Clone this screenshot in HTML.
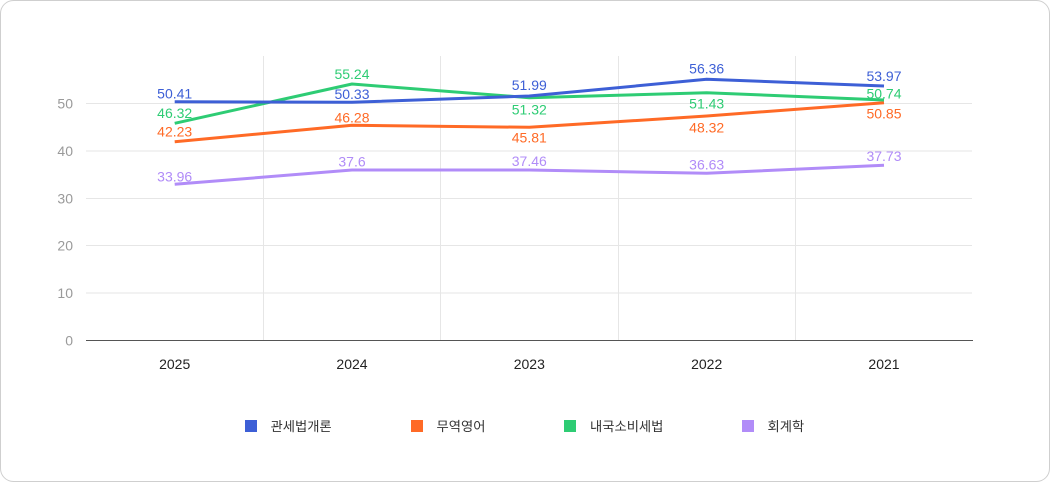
<!DOCTYPE html>
<html>
<head>
<meta charset="utf-8">
<style>
  html,body{margin:0;padding:0;background:#fff;}
  body{width:1050px;height:482px;overflow:hidden;}
  svg{display:block;}
  text{font-family:"Liberation Sans","Noto Sans CJK KR",sans-serif;}
</style>
</head>
<body>
<svg width="1050" height="482" viewBox="0 0 1050 482" xmlns="http://www.w3.org/2000/svg">
  <rect x="0.5" y="0.5" width="1049" height="481" rx="13" ry="13" fill="#fff" stroke="#cfcfcf" stroke-width="1"/>

  <!-- horizontal grid -->
  <g stroke="#e6e6e6" stroke-width="1">
    <line x1="86" y1="103.5" x2="972" y2="103.5"/>
    <line x1="86" y1="151" x2="972" y2="151"/>
    <line x1="86" y1="198.5" x2="972" y2="198.5"/>
    <line x1="86" y1="245.5" x2="972" y2="245.5"/>
    <line x1="86" y1="293" x2="972" y2="293"/>
    <!-- vertical grid -->
    <line x1="263.5" y1="56" x2="263.5" y2="340"/>
    <line x1="440.5" y1="56" x2="440.5" y2="340"/>
    <line x1="618.5" y1="56" x2="618.5" y2="340"/>
    <line x1="795.5" y1="56" x2="795.5" y2="340"/>
  </g>
  <line x1="86" y1="340.5" x2="973" y2="340.5" stroke="#555" stroke-width="1"/>

  <!-- y labels -->
  <g fill="#9a9a9a" font-size="14" text-anchor="end">
    <text x="73" y="108.5">50</text>
    <text x="73" y="156">40</text>
    <text x="73" y="203.5">30</text>
    <text x="73" y="250.5">20</text>
    <text x="73" y="298">10</text>
    <text x="73" y="345.5">0</text>
  </g>

  <!-- x labels -->
  <g fill="#222" font-size="14" text-anchor="middle">
    <text x="174.7" y="369">2025</text>
    <text x="352" y="369">2024</text>
    <text x="529.3" y="369">2023</text>
    <text x="706.7" y="369">2022</text>
    <text x="884" y="369">2021</text>
  </g>

  <!-- series -->
  <g fill="none" stroke-width="3" stroke-linejoin="round" stroke-linecap="butt">
    <polyline stroke="#b18cf8" points="174.7,184.3 352,170 529.3,170 706.7,173.3 884,165.3"/>
    <polyline stroke="#ff6a26" points="174.7,141.7 352,125.3 529.3,127.3 706.7,116 884,102.7"/>
    <polyline stroke="#2ecc74" points="174.7,123.3 352,84 529.3,97.7 706.7,92.7 884,100"/>
    <polyline stroke="#3d5fd6" points="174.7,101.7 352,102.3 529.3,96 706.7,79.3 884,86"/>
  </g>

  <!-- data labels -->
  <g font-size="14" text-anchor="middle">
    <g fill="#3d5fd6">
      <text x="174.7" y="98.3">50.41</text>
      <text x="352" y="99">50.33</text>
      <text x="529.3" y="90">51.99</text>
      <text x="706.7" y="73.3">56.36</text>
      <text x="884" y="81">53.97</text>
    </g>
    <g fill="#2ecc74">
      <text x="174.7" y="118">46.32</text>
      <text x="352" y="79">55.24</text>
      <text x="529.3" y="114.3">51.32</text>
      <text x="706.7" y="108.3">51.43</text>
      <text x="884" y="98.3">50.74</text>
    </g>
    <g fill="#ff6a26">
      <text x="174.7" y="136.7">42.23</text>
      <text x="352" y="122.7">46.28</text>
      <text x="529.3" y="142.3">45.81</text>
      <text x="706.7" y="132.7">48.32</text>
      <text x="884" y="118.3">50.85</text>
    </g>
    <g fill="#b18cf8">
      <text x="174.7" y="181.7">33.96</text>
      <text x="352" y="166.7">37.6</text>
      <text x="529.3" y="166">37.46</text>
      <text x="706.7" y="169.3">36.63</text>
      <text x="884" y="161">37.73</text>
    </g>
  </g>

  <!-- legend -->
  <g font-size="13.3" fill="#333">
    <rect x="245" y="420" width="12" height="12" fill="#3d5fd6"/>
    <text x="270.5" y="431">관세법개론</text>
    <rect x="411" y="420" width="12" height="12" fill="#ff6a26"/>
    <text x="436.5" y="431">무역영어</text>
    <rect x="564" y="420" width="12" height="12" fill="#2ecc74"/>
    <text x="590" y="431">내국소비세법</text>
    <rect x="742" y="420" width="12" height="12" fill="#b18cf8"/>
    <text x="767.5" y="431">회계학</text>
  </g>
</svg>
</body>
</html>
